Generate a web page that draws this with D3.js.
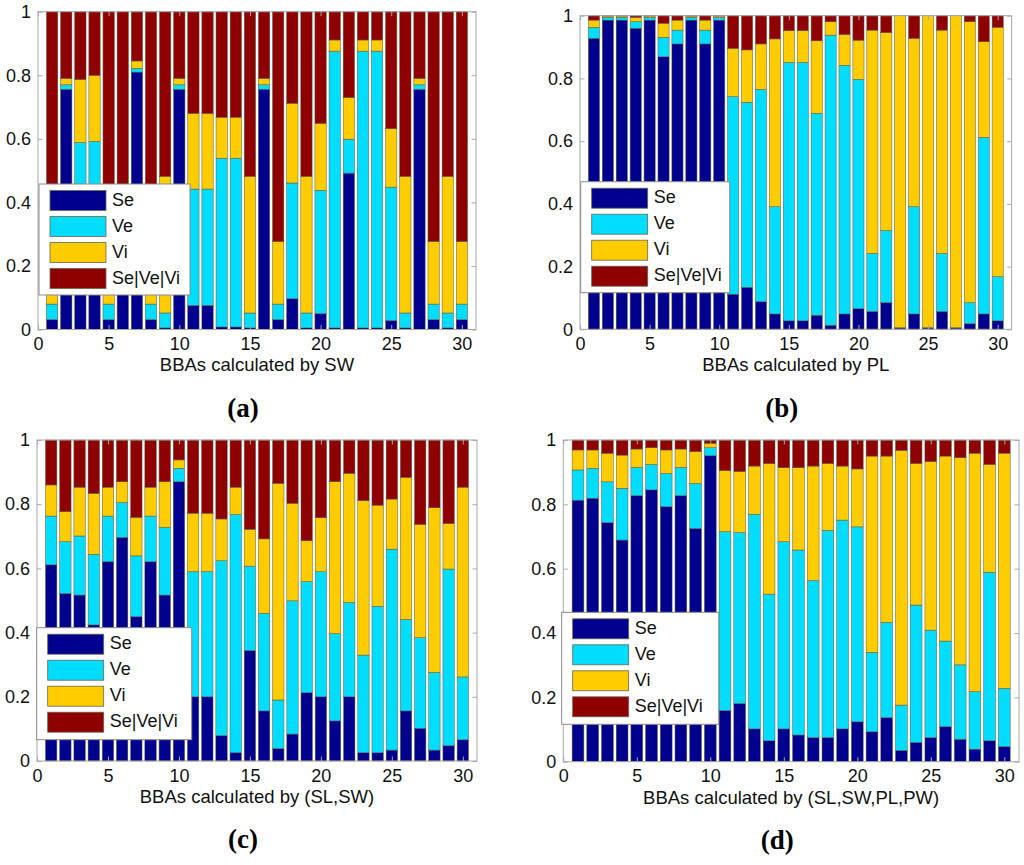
<!DOCTYPE html>
<html><head><meta charset="utf-8">
<script src="https://cdn.jsdelivr.net/npm/d3@7/dist/d3.min.js"></script>
<style>body{margin:0;background:#fff}</style>
</head><body>
<svg id="chart" width="1024" height="865" xmlns="http://www.w3.org/2000/svg"></svg>
<script>
// ---------- data ----------
const classes = ["Se", "Ve", "Vi", "Se|Ve|Vi"];
const classColors = ["#00008F", "#00DDFF", "#FFCC00", "#8F0000"];
const bbaIds = [1,2,3,4,5,6,7,8,9,10,11,12,13,14,15,16,17,18,19,20,21,22,23,24,25,26,27,28,29,30];
const xTickValues = [0, 5, 10, 15, 20, 25, 30];
const yTickValues = [0, 0.2, 0.4, 0.6, 0.8, 1];

// (a) SW
const seSW = [.031,.756,.30,.30,.031,.40,.81,.031,.005,.756,.076,.076,.008,.008,.005,.756,.031,.097,.005,.05,.005,.492,.005,.005,.028,.005,.756,.031,.005,.031];
const veSW = [.049,.014,.288,.292,.049,.01,.012,.049,.047,.014,.366,.366,.531,.531,.047,.014,.049,.364,.047,.388,.871,.107,.871,.871,.42,.047,.014,.049,.047,.049];
const viSW = [.197,.02,.199,.208,.197,.02,.023,.197,.43,.02,.238,.238,.129,.129,.43,.02,.197,.251,.43,.211,.035,.131,.035,.035,.184,.43,.02,.197,.43,.197];

// (b) PL
const sePL = [.928,.986,.986,.96,.986,.869,.91,.986,.91,.986,.112,.134,.088,.049,.027,.027,.045,.013,.049,.066,.057,.085,.004,.049,.004,.057,.004,.018,.049,.027];
const vePL = [.035,.009,.009,.021,.009,.062,.044,.009,.044,.009,.63,.59,.677,.342,.824,.824,.644,.925,.793,.731,.185,.23,.001,.342,.001,.185,.001,.067,.563,.141];
const viPL = [.023,.004,.004,.014,.004,.045,.032,.004,.032,.004,.154,.167,.145,.535,.101,.101,.231,.043,.098,.125,.712,.631,.995,.537,.995,.712,.995,.896,.305,.795];

// (c) (SL,SW)
const seSLSW = [.611,.522,.517,.424,.621,.697,.45,.621,.517,.87,.2,.2,.079,.026,.344,.156,.039,.084,.213,.2,.125,.2,.026,.026,.034,.156,.102,.034,.048,.066];
const veSLSW = [.152,.161,.184,.22,.142,.108,.189,.142,.211,.042,.39,.39,.545,.742,.263,.304,.151,.415,.346,.39,.272,.294,.304,.456,.626,.285,.282,.242,.55,.196];
const viSLSW = [.097,.094,.152,.19,.09,.065,.12,.09,.142,.026,.182,.182,.13,.085,.115,.232,.675,.304,.127,.168,.473,.402,.481,.315,.156,.443,.353,.513,.142,.591];

// (d) (SL,SW,PL,PW)
const seAll = [.813,.819,.743,.689,.827,.845,.793,.827,.725,.951,.159,.181,.102,.065,.102,.083,.075,.075,.102,.124,.093,.137,.035,.06,.075,.109,.07,.039,.065,.047];
const veAll = [.094,.093,.127,.161,.088,.079,.103,.088,.14,.025,.556,.531,.667,.456,.582,.575,.488,.644,.649,.606,.247,.296,.141,.427,.334,.266,.231,.179,.524,.181];
const viAll = [.062,.057,.089,.103,.057,.052,.073,.057,.099,.014,.19,.19,.15,.406,.23,.256,.356,.208,.168,.18,.61,.517,.792,.44,.524,.575,.644,.741,.335,.731];

const xLabels = ["BBAs calculated by SW", "BBAs calculated by PL", "BBAs calculated by (SL,SW)", "BBAs calculated by (SL,SW,PL,PW)"];
const panelLetters = ["(a)", "(b)", "(c)", "(d)"];

// ---------- layout ----------
const panels = [
  {se: seSW,   ve: veSW,   vi: viSW,   left: 38,    right: 476,    top: 11.7, bottom: 329.5, leg: {x: 39,    y: 184,   w: 151, h: 111}},
  {se: sePL,   ve: vePL,   vi: viPL,   left: 580,   right: 1011.6, top: 15.7, bottom: 329.3, leg: {x: 580.7, y: 181.7, w: 149, h: 111}},
  {se: seSLSW, ve: veSLSW, vi: viSLSW, left: 37,    right: 477,    top: 440,  bottom: 761,   leg: {x: 36.7,  y: 627.7, w: 155, h: 112}},
  {se: seAll,  ve: veAll,  vi: viAll,  left: 563.3, right: 1019,   top: 440,  bottom: 761.7, leg: {x: 561.7, y: 612.3, w: 157, h: 112}}
];

const svg = d3.select("#chart");
const sansFont = "'Liberation Sans', Arial, sans-serif";
const frameColor = "#a8a8a8";

panels.forEach((p, pi) => {
  const rows = bbaIds.map((id, i) => ({
    id,
    Se: p.se[i], Ve: p.ve[i], Vi: p.vi[i],
    "Se|Ve|Vi": Math.max(0, 1 - p.se[i] - p.ve[i] - p.vi[i])
  }));
  const x = d3.scaleLinear().domain([0, 31]).range([p.left, p.right]);
  const y = d3.scaleLinear().domain([0, 1]).range([p.bottom, p.top]);
  const stack = d3.stack().keys(classes)(rows);
  const bw = x(0.8) - x(0);

  const g = svg.append("g");

  // bars
  stack.forEach((layer, li) => {
    g.append("g").selectAll("rect").data(layer).join("rect")
      .attr("x", d => x(d.data.id) - bw / 2)
      .attr("width", bw)
      .attr("y", d => y(d[1]))
      .attr("height", d => Math.max(0, y(d[0]) - y(d[1])))
      .attr("fill", classColors[li])
      .attr("stroke", "#5a5a40")
      .attr("stroke-width", 0.5);
  });

  // frame
  g.append("rect")
    .attr("x", p.left).attr("y", p.top)
    .attr("width", p.right - p.left).attr("height", p.bottom - p.top)
    .attr("fill", "none").attr("stroke", frameColor).attr("stroke-width", 1);

  const tl = 4.5;
  // bottom axis
  const xAxis = d3.axisBottom(x).tickValues(xTickValues).tickSizeInner(-tl).tickSizeOuter(0).tickPadding(8).tickFormat(d3.format("d"));
  const gx = g.append("g").attr("transform", `translate(0,${p.bottom})`).call(xAxis);
  // top ticks
  const gxt = g.append("g").attr("transform", `translate(0,${p.top})`)
    .call(d3.axisTop(x).tickValues(xTickValues).tickSizeInner(-tl).tickSizeOuter(0).tickFormat(""));
  // left axis
  const yAxis = d3.axisLeft(y).tickValues(yTickValues).tickSizeInner(-tl).tickSizeOuter(0).tickPadding(7)
    .tickFormat(d => d === 0 ? "0" : d === 1 ? "1" : d3.format(".1f")(d));
  const gy = g.append("g").attr("transform", `translate(${p.left},0)`).call(yAxis);
  const gyr = g.append("g").attr("transform", `translate(${p.right},0)`)
    .call(d3.axisRight(y).tickValues(yTickValues).tickSizeInner(-tl).tickSizeOuter(0).tickFormat(""));

  [gx, gxt, gy, gyr].forEach(a => {
    a.select(".domain").remove();
    a.selectAll(".tick line").attr("stroke", frameColor);
    a.selectAll("text").attr("font-family", sansFont).attr("font-size", 18).attr("fill", "#111");
  });

  // x label
  g.append("text")
    .attr("x", (p.left + p.right) / 2).attr("y", p.bottom + 37)
    .attr("text-anchor", "middle").attr("dominant-baseline", "middle")
    .attr("font-family", sansFont).attr("font-size", 18.5).attr("fill", "#111")
    .text(xLabels[pi]);

  // panel letter
  const letter = g.append("text")
    .attr("x", (p.left + p.right) / 2 - 14).attr("y", p.bottom + 81)
    .attr("text-anchor", "middle").attr("dominant-baseline", "middle")
    .attr("font-family", "'Liberation Serif', 'Times New Roman', serif").attr("font-size", 27)
    .attr("font-weight", "bold").attr("fill", "#000");
  letter.text(panelLetters[pi]);

  // legend
  const L = p.leg;
  const lg = g.append("g").attr("transform", `translate(${L.x},${L.y})`);
  lg.append("rect").attr("width", L.w).attr("height", L.h)
    .attr("fill", "#fff").attr("stroke", "#8a8a8a").attr("stroke-width", 1);
  classes.forEach((c, ci) => {
    lg.append("rect")
      .attr("x", 11).attr("y", 6.5 + ci * 26).attr("width", 56).attr("height", 20)
      .attr("fill", classColors[ci]).attr("stroke", "#666650").attr("stroke-width", 0.8);
    lg.append("text")
      .attr("x", 73).attr("y", 6.5 + ci * 26 + 10.5)
      .attr("dominant-baseline", "middle")
      .attr("font-family", sansFont).attr("font-size", 18).attr("fill", "#111")
      .text(c);
  });
});
</script>
</body></html>
